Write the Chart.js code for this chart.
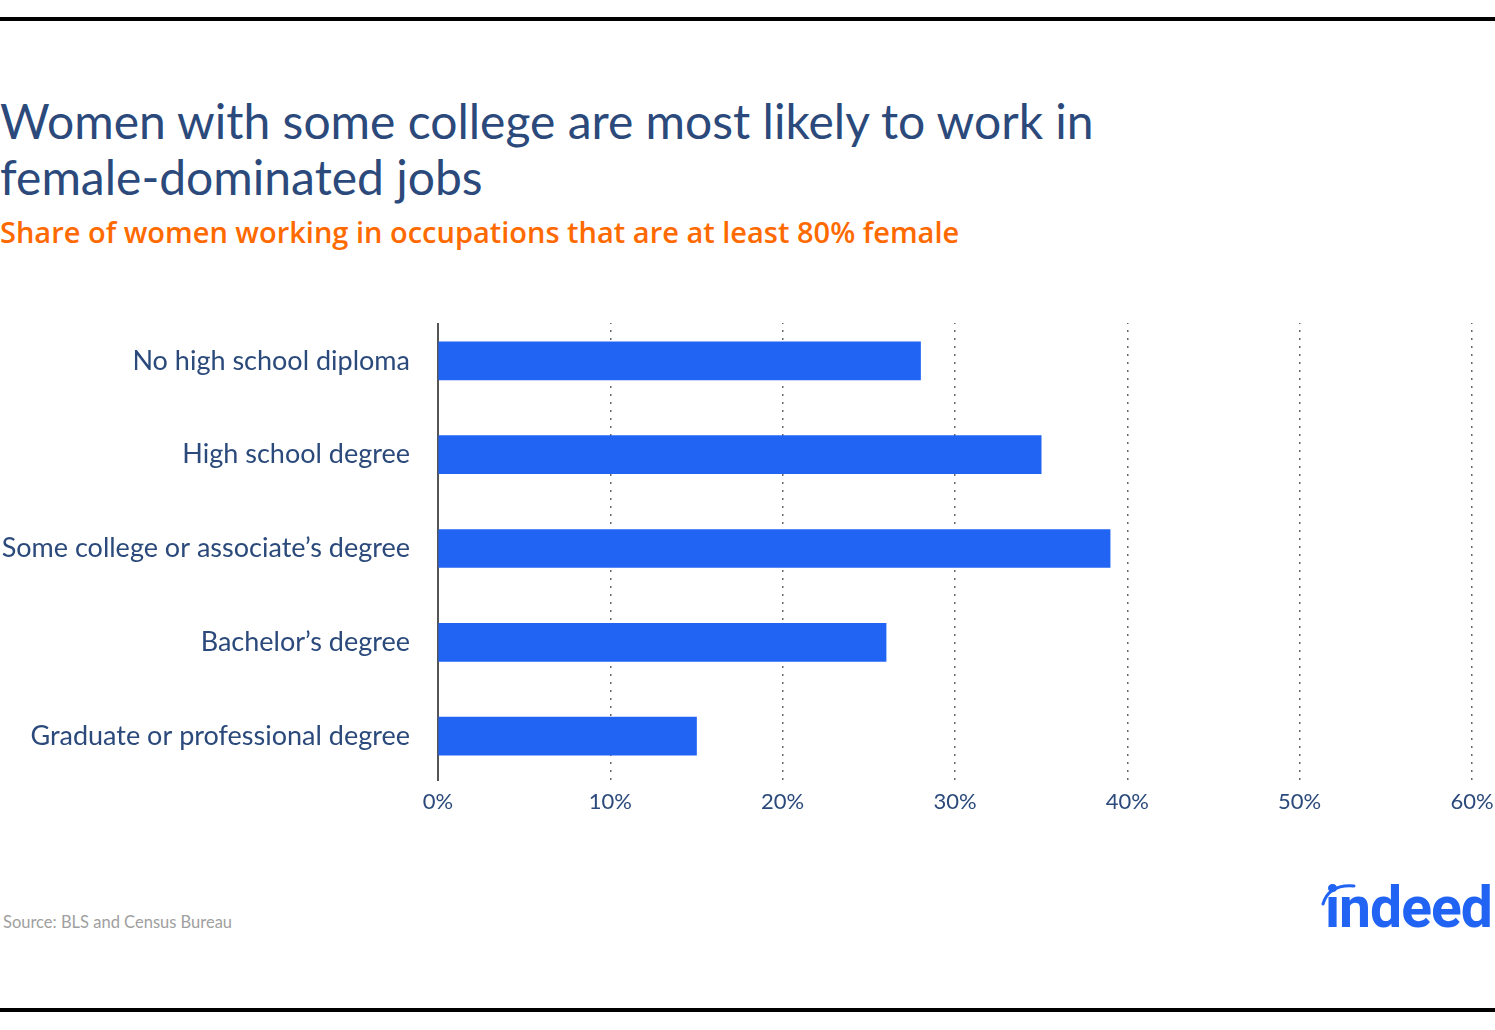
<!DOCTYPE html>
<html>
<head>
<meta charset="utf-8">
<script src="https://cdn.jsdelivr.net/npm/chart.js@4.4.1/dist/chart.umd.min.js"></script>
<style>
  html, body { margin: 0; padding: 0; background: #fff; }
  body { width: 1495px; height: 1030px; position: relative; overflow: hidden; font-family: Lato, sans-serif; font-variant-ligatures: none; }
  .rule { position: absolute; left: 0; width: 1495px; height: 4px; background: #000; }
  #title { position: absolute; left: 0; top: 93px; font-size: 48px; line-height: 56px; color: #2b4a7b; font-weight: 400; }
  #subtitle { position: absolute; left: 0; top: 212px; font-size: 29px; color: #ff6a00; font-weight: 600; font-family: 'Open Sans', sans-serif; }
  #chartBox { position: absolute; left: 0; top: 314px; width: 1495px; height: 510px; }
  #source { position: absolute; left: 3px; top: 912px; font-size: 16.5px; color: #a0a0a0; }
  #logo { position: absolute; left: 1325px; top: 875px; font-family: Roboto, sans-serif; font-weight: 700; font-size: 57px; color: #2164f3; letter-spacing: -1px; line-height: 66px; }
  #arc { position: absolute; left: 0; top: 0; }
</style>
</head>
<body>
<div class="rule" style="top:17px"></div>
<div id="title">Women with some college are most likely to work in<br>female-dominated jobs</div>
<div id="subtitle">Share of women working in occupations that are at least 80% female</div>
<div id="chartBox"><canvas id="barGraph"></canvas></div>
<div id="source">Source: BLS and Census Bureau</div>
<div id="logo">indeed</div>
<svg id="arc" width="1495" height="1030"><path d="M1323 904 Q1329 884 1354 886" stroke="#2164f3" stroke-width="3" fill="none" stroke-linecap="round"/></svg>
<div class="rule" style="top:1008px"></div>

<script>
const categories = ['No high school diploma', 'High school degree', 'Some college or associate\u2019s degree', 'Bachelor\u2019s degree', 'Graduate or professional degree'];
const shares = [28, 35, 39, 26, 15];
const tickValues = [0, 10, 20, 30, 40, 50, 60];

const navy = '#2b4a7b';

// grid and axis line stop a little short of the category band edges
const trimLines = {
    id: 'trimLines',
    beforeDraw(chart) {
        const { ctx, chartArea: a, width, height } = chart;
        ctx.save();
        ctx.beginPath();
        ctx.rect(0, 0, width, height);
        ctx.rect(a.left - 3, a.top - 1, a.right - a.left + 6, 10);
        ctx.rect(a.left - 3, a.bottom - 2, a.right - a.left + 6, 3);
        ctx.clip('evenodd');
    },
    beforeDatasetsDraw(chart) {
        chart.ctx.restore();
    }
};

new Chart(document.getElementById('barGraph'), {
    type: 'bar',
    data: {
        labels: categories,
        datasets: [{
            data: shares,
            backgroundColor: '#2164f3',
            barThickness: 38,
            borderWidth: 0
        }]
    },
    options: {
        indexAxis: 'y',
        responsive: true,
        maintainAspectRatio: false,
        animation: false,
        layout: { padding: { left: 0, right: 23, top: 0, bottom: 0 } },
        plugins: {
            legend: { display: false },
            tooltip: { enabled: false }
        },
        scales: {
            x: {
                min: 0,
                max: 60,
                afterBuildTicks: (scale) => {
                    scale.ticks = tickValues.map(v => ({ value: v }));
                },
                afterFit: (scale) => {
                    scale.height = 41;
                    scale.paddingLeft = 0;
                    scale.paddingRight = 0;
                },
                ticks: {
                    color: navy,
                    font: { family: 'Lato', size: 22 },
                    padding: 6,
                    maxRotation: 0,
                    callback: (v) => v + '%'
                },
                grid: {
                    drawTicks: false,
                    color: (ctx) => ctx.tick && ctx.tick.value === 0 ? 'rgba(0,0,0,0)' : '#666',
                    lineWidth: 1.5
                },
                border: { display: false, dash: [2, 6] }
            },
            y: {
                afterFit: (scale) => {
                    scale.width = 438;
                    scale.paddingTop = 0;
                    scale.paddingBottom = 0;
                },
                ticks: {
                    color: navy,
                    font: { family: 'Lato', size: 27 },
                    padding: 28
                },
                grid: { display: false, drawTicks: false },
                border: { display: true, color: '#555', width: 2 }
            }
        }
    },
    plugins: [trimLines]
});
</script>
</body>
</html>
